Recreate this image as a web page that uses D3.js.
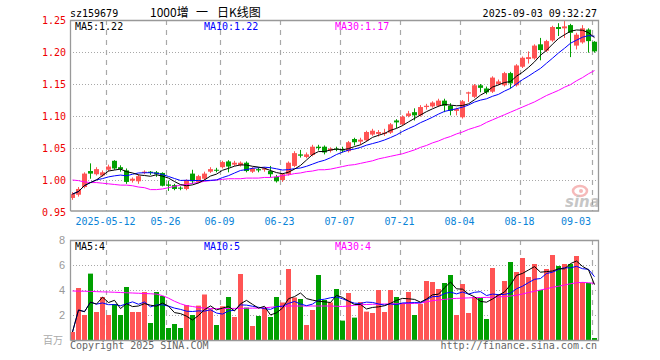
<!DOCTYPE html>
<html>
<head>
<meta charset="utf-8">
<script src="https://cdn.jsdelivr.net/npm/d3@7"></script>
<style>
body { margin: 0; background: #fff; }
svg text { font-family: "DejaVu Sans Mono", monospace; font-size: 10px; }
</style>
</head>
<body>
<div id="kline"></div>
<script>
// trading days shown on the chart
var dates = ["2025-04-29","2025-04-30","2025-05-06","2025-05-07","2025-05-08","2025-05-09","2025-05-12","2025-05-13","2025-05-14","2025-05-15",
  "2025-05-16","2025-05-19","2025-05-20","2025-05-21","2025-05-22","2025-05-23","2025-05-26","2025-05-27","2025-05-28","2025-05-29",
  "2025-05-30","2025-06-03","2025-06-04","2025-06-05","2025-06-06","2025-06-09","2025-06-10","2025-06-11","2025-06-12","2025-06-13",
  "2025-06-16","2025-06-17","2025-06-18","2025-06-19","2025-06-20","2025-06-23","2025-06-24","2025-06-25","2025-06-26","2025-06-27",
  "2025-06-30","2025-07-01","2025-07-02","2025-07-03","2025-07-04","2025-07-07","2025-07-08","2025-07-09","2025-07-10","2025-07-11",
  "2025-07-14","2025-07-15","2025-07-16","2025-07-17","2025-07-18","2025-07-21","2025-07-22","2025-07-23","2025-07-24","2025-07-25",
  "2025-07-28","2025-07-29","2025-07-30","2025-07-31","2025-08-01","2025-08-04","2025-08-05","2025-08-06","2025-08-07","2025-08-08",
  "2025-08-11","2025-08-12","2025-08-13","2025-08-14","2025-08-15","2025-08-18","2025-08-19","2025-08-20","2025-08-21","2025-08-22",
  "2025-08-25","2025-08-26","2025-08-27","2025-08-28","2025-08-29","2025-09-01","2025-09-02","2025-09-03"];

var openPrices = [0.972,0.977,0.989,1.014,1.009,1.007,1.016,1.030,1.020,1.015,
  0.999,0.998,1.011,1.013,1.012,1.011,0.993,0.992,0.988,0.986,
  1.010,0.997,1.002,1.013,1.016,1.020,1.029,1.024,1.023,1.027,
  1.013,1.017,1.016,1.014,1.005,1.000,1.009,1.022,1.040,1.036,
  1.039,1.052,1.052,1.046,1.049,1.048,1.045,1.064,1.060,1.062,
  1.071,1.072,1.072,1.074,1.093,1.087,1.100,1.106,1.101,1.114,
  1.115,1.116,1.124,1.116,1.108,1.098,1.135,1.130,1.148,1.143,
  1.138,1.150,1.148,1.167,1.148,1.177,1.189,1.190,1.212,1.202,
  1.218,1.239,1.237,1.242,1.210,1.215,1.235,1.216];

var highPrices = [0.981,0.989,1.012,1.026,1.020,1.015,1.024,1.031,1.023,1.018,
  1.004,1.009,1.015,1.014,1.014,1.012,0.999,0.994,0.990,1.001,
  1.016,1.008,1.013,1.020,1.019,1.030,1.031,1.030,1.029,1.029,
  1.020,1.020,1.020,1.022,1.008,1.011,1.029,1.045,1.047,1.043,
  1.055,1.055,1.054,1.051,1.052,1.052,1.061,1.066,1.066,1.077,
  1.080,1.078,1.080,1.089,1.095,1.101,1.108,1.112,1.117,1.119,
  1.123,1.127,1.127,1.120,1.113,1.125,1.138,1.150,1.150,1.146,
  1.162,1.157,1.169,1.169,1.181,1.193,1.201,1.212,1.222,1.219,
  1.241,1.245,1.250,1.244,1.230,1.242,1.237,1.217];

var lowPrices = [0.969,0.974,0.987,1.002,1.007,1.005,1.013,1.016,1.013,0.994,
  0.996,0.994,1.009,1.008,1.005,0.990,0.983,0.984,0.984,0.984,
  0.994,0.995,1.000,1.011,1.012,1.018,1.012,1.022,1.021,1.012,
  1.011,1.012,1.013,1.004,0.996,0.997,1.007,1.020,1.035,1.034,
  1.037,1.046,1.040,1.043,1.045,1.043,1.043,1.054,1.055,1.060,
  1.069,1.068,1.069,1.072,1.081,1.085,1.098,1.093,1.099,1.110,
  1.113,1.114,1.106,1.101,1.101,1.096,1.122,1.128,1.137,1.134,
  1.136,1.148,1.146,1.143,1.146,1.175,1.182,1.188,1.187,1.200,
  1.216,1.225,1.222,1.192,1.204,1.213,1.199,1.199];

var closePrices = [0.978,0.986,1.010,1.010,1.017,1.012,1.021,1.018,1.017,0.997,
  1.002,1.006,1.013,1.011,1.009,0.991,0.991,0.986,0.987,1.000,
  0.998,1.006,1.010,1.017,1.015,1.028,1.021,1.027,1.027,1.014,
  1.018,1.015,1.018,1.009,0.998,1.009,1.027,1.042,1.038,1.040,
  1.052,1.050,1.043,1.049,1.048,1.046,1.059,1.059,1.063,1.075,
  1.077,1.075,1.074,1.087,1.090,1.099,1.104,1.101,1.114,1.116,
  1.121,1.124,1.116,1.108,1.111,1.123,1.137,1.148,1.144,1.137,
  1.160,1.154,1.167,1.151,1.179,1.191,1.192,1.210,1.203,1.217,
  1.239,1.236,1.240,1.230,1.227,1.237,1.217,1.201];

// 30 day average (needs history before the window)
var priceMA30 = [1.000,0.999,0.997,0.996,0.996,0.995,0.994,0.993,0.992,0.992,
  0.991,0.989,0.988,0.985,0.985,0.986,0.988,0.990,0.992,0.993,
  0.995,0.996,0.998,0.999,1.000,1.001,1.002,1.002,1.002,1.003,
  1.003,1.003,1.004,1.004,1.005,1.007,1.008,1.010,1.011,1.013,
  1.014,1.016,1.016,1.017,1.019,1.021,1.023,1.024,1.026,1.028,
  1.030,1.033,1.035,1.037,1.039,1.041,1.044,1.047,1.051,1.054,
  1.058,1.061,1.065,1.068,1.072,1.075,1.079,1.082,1.085,1.090,
  1.094,1.098,1.102,1.106,1.110,1.114,1.118,1.122,1.127,1.132,
  1.136,1.140,1.145,1.149,1.155,1.160,1.166,1.171];

// volume, millions
var volumes = [0.64,4.16,2.00,5.31,2.24,3.44,2.00,2.88,2.00,4.24,
  2.24,2.24,3.84,1.36,3.84,3.52,0.96,1.28,0.96,2.80,
  2.00,2.75,3.64,2.45,1.20,2.70,3.44,1.84,5.28,2.59,
  1.12,1.92,2.56,1.84,3.44,3.00,5.68,3.40,3.28,1.20,
  2.40,5.20,3.20,3.00,4.08,1.55,3.76,1.79,3.04,2.27,
  2.16,4.00,2.24,4.00,3.44,2.96,3.84,2.00,2.88,4.72,
  4.64,4.08,4.56,5.20,2.00,4.48,2.16,3.44,3.36,1.68,
  5.76,3.68,4.72,6.24,5.44,6.56,5.04,6.08,4.00,5.68,
  6.80,5.92,6.08,6.08,6.72,4.64,4.56,0.16];

var volumeMA30 = [3.92,3.91,3.90,3.89,3.87,3.85,3.84,3.82,3.80,3.78,
  3.76,3.74,3.72,3.70,3.67,3.55,3.35,3.10,2.90,2.75,
  2.68,2.60,2.55,2.52,2.51,2.51,2.52,2.53,2.53,2.54,
  2.55,2.55,2.58,2.62,2.66,2.70,2.72,2.72,2.72,2.72,
  2.72,2.72,2.72,2.72,2.70,2.68,2.72,2.78,2.82,2.84,
  2.86,2.87,2.88,2.89,2.90,2.91,2.92,2.93,2.95,3.05,
  3.15,3.20,3.25,3.30,3.33,3.35,3.37,3.39,3.40,3.41,
  3.42,3.45,3.48,3.52,3.58,3.68,3.80,3.90,4.00,4.10,
  4.22,4.30,4.40,4.50,4.58,4.61,4.58,4.53];

var tickDates = ["2025-05-12","2025-05-26","2025-06-09","2025-06-23","2025-07-07","2025-07-21","2025-08-04","2025-08-18","2025-09-03"];
var tickLabels = ["2025-05-12","05-26","06-09","06-23","07-07","07-21","08-04","08-18","09-03"];
var priceTicks = [1.25, 1.20, 1.15, 1.10, 1.05, 1.00, 0.95];
var volumeTicks = [8, 6, 4, 2];

var upColor = "#ff5454";
var downColor = "#00a000";
var gridColor = "#a8a8a8";

// simple moving average (shorter window at the very start)
function movingAverage(values, n) {
  return values.map((v, i) => d3.mean(values.slice(Math.max(0, i - n + 1), i + 1)));
}

var candles = dates.map((d, i) => ({
  date: d, open: openPrices[i], high: highPrices[i], low: lowPrices[i],
  close: closePrices[i], volume: volumes[i]
}));

var priceMA5 = movingAverage(closePrices, 5);
var priceMA10 = movingAverage(closePrices, 10);
var volumeMA5 = movingAverage(volumes, 5);
var volumeMA10 = movingAverage(volumes, 10);

var width = 660, height = 360;
var left = 70, right = 598;
var mainTop = 20, mainBottom = 211;
var volTop = 240, volBottom = 340;

var svg = d3.select("#kline").append("svg")
  .attr("width", width).attr("height", height);

var x = d3.scaleBand().domain(dates).range([70, 597]).paddingInner(1 / 6);
var y = d3.scaleLinear().domain([0.95, 1.25]).range([212, 20]);
var yv = d3.scaleLinear().domain([0, 8]).range([340, 240]);
var cx = d => x(d) + x.bandwidth() / 2;

// header
svg.append("text").attr("x", 70).attr("y", 16.5).attr("fill", "#000").text("sz159679");
var title = svg.append("g").attr("font-size", "12px");
title.append("text").attr("x", 150).attr("y", 17).style("font-family", "'Noto Sans CJK SC', sans-serif").style("font-size", "12px").text("1000增");
title.append("text").attr("x", 196).attr("y", 17).style("font-family", "'Noto Sans CJK SC', sans-serif").style("font-size", "12px").text("一");
title.append("text").attr("x", 217).attr("y", 17).style("font-family", "'Noto Sans CJK SC', sans-serif").style("font-size", "12px").text("日K线图");
svg.append("text").attr("x", 597).attr("y", 16.5).attr("text-anchor", "end").text("2025-09-03 09:32:27");

// dotted horizontal grid
svg.append("g").selectAll("line")
  .data(priceTicks.filter(t => t < 1.249 && t > 0.951))
  .enter().append("line")
  .attr("x1", left).attr("x2", right)
  .attr("y1", d => Math.round(y(d)) + 0.5).attr("y2", d => Math.round(y(d)) + 0.5)
  .attr("stroke", gridColor).attr("stroke-dasharray", "1,2");

svg.append("g").selectAll("line")
  .data([6, 4, 2])
  .enter().append("line")
  .attr("x1", left).attr("x2", right)
  .attr("y1", d => yv(d) + 0.5).attr("y2", d => yv(d) + 0.5)
  .attr("stroke", gridColor).attr("stroke-dasharray", "1,2");

// dashed date lines in both panels
[[mainTop, mainBottom], [volTop, volBottom]].forEach(([t, b]) => {
  svg.append("g").selectAll("line")
    .data(tickDates)
    .enter().append("line")
    .attr("x1", d => x(d) + 0.5).attr("x2", d => x(d) + 0.5)
    .attr("y1", t).attr("y2", b)
    .attr("stroke", gridColor).attr("stroke-width", 1.2)
    .attr("stroke-dasharray", "5,5");
});

// sina watermark
var mark = svg.append("g").attr("opacity", 0.55);
mark.append("ellipse").attr("cx", 580).attr("cy", 191).attr("rx", 7).attr("ry", 5)
  .attr("fill", "none").attr("stroke", "#f08080").attr("stroke-width", 2.5);
mark.append("circle").attr("cx", 581).attr("cy", 191).attr("r", 2).attr("fill", "#f08080");
mark.append("text").attr("x", 565).attr("y", 207)
  .style("font-family", "'DejaVu Sans', sans-serif").style("font-size", "15px")
  .style("font-style", "italic").style("font-weight", "bold")
  .attr("fill", "#999").text("sina");

// candles
var candle = svg.append("g").selectAll("g")
  .data(candles).enter().append("g");

candle.append("line")
  .attr("x1", d => cx(d.date)).attr("x2", d => cx(d.date))
  .attr("y1", d => y(d.high)).attr("y2", d => y(d.low))
  .attr("stroke", d => d.close >= d.open ? upColor : downColor);

candle.append("rect")
  .attr("x", d => x(d.date)).attr("width", x.bandwidth())
  .attr("y", d => y(Math.max(d.open, d.close)))
  .attr("height", d => Math.max(1, Math.abs(y(d.open) - y(d.close))))
  .attr("fill", d => d.close >= d.open ? upColor : downColor);

// volume bars
svg.append("g").selectAll("rect")
  .data(candles).enter().append("rect")
  .attr("x", d => x(d.date)).attr("width", x.bandwidth())
  .attr("y", d => yv(d.volume)).attr("height", d => volBottom - yv(d.volume))
  .attr("fill", d => d.close >= d.open ? upColor : downColor);

// moving average lines
function drawLine(values, scale, color) {
  var line = d3.line().x((d, i) => cx(dates[i])).y(d => scale(d));
  svg.append("path").datum(values)
    .attr("d", line).attr("fill", "none")
    .attr("stroke", color).attr("stroke-width", 1);
}
drawLine(priceMA30, y, "#ff00ff");
drawLine(priceMA10, y, "#0000ff");
drawLine(priceMA5, y, "#000000");
drawLine(volumeMA30, yv, "#ff00ff");
drawLine(volumeMA10, yv, "#0000ff");
drawLine(volumeMA5, yv, "#000000");

// panel frames
svg.append("path")
  .attr("d", "M70.5,211 V20.5 H598.5 V211 H70.5 M70.5,340.5 V240.5 H598.5 V340.5 H70.5")
  .attr("fill", "none").attr("stroke", "#999").attr("stroke-width", 1.3);

// price axis
svg.append("g").selectAll("text")
  .data(priceTicks).enter().append("text")
  .attr("x", 66).attr("y", d => y(d) + 3.5)
  .attr("text-anchor", "end").attr("fill", "#ee0000")
  .text(d => d.toFixed(2));

// volume axis
svg.append("g").selectAll("text")
  .data(volumeTicks).enter().append("text")
  .attr("x", 65).attr("y", d => yv(d) + 4)
  .attr("text-anchor", "end").attr("fill", "#999")
  .style("font-family", "'Liberation Sans', sans-serif").style("font-size", "11px")
  .text(d => d);
svg.append("text").attr("x", 63).attr("y", 344).attr("text-anchor", "end")
  .attr("fill", "#aaa").style("font-family", "'Noto Sans CJK SC', sans-serif").style("font-size", "10px")
  .text("百万");

// date labels
svg.append("g").selectAll("text")
  .data(tickDates).enter().append("text")
  .attr("x", (d, i) => i === tickDates.length - 1 ? 591 : x(d) - 0.5)
  .attr("y", 225)
  .attr("text-anchor", (d, i) => i === tickDates.length - 1 ? "end" : "middle")
  .attr("fill", "#0a84d8")
  .text((d, i) => tickLabels[i]);

// legends
var last = dates.length - 1;
svg.append("text").attr("x", 75).attr("y", 30).attr("fill", "#000").text("MA5:" + priceMA5[last].toFixed(2));
svg.append("text").attr("x", 204).attr("y", 30).attr("fill", "#0000ff").text("MA10:" + priceMA10[last].toFixed(2));
svg.append("text").attr("x", 335).attr("y", 30).attr("fill", "#ff00ff").text("MA30:" + priceMA30[last].toFixed(2));
svg.append("text").attr("x", 75).attr("y", 249.5).attr("fill", "#000").text("MA5:" + Math.floor(volumeMA5[last]));
svg.append("text").attr("x", 204).attr("y", 249.5).attr("fill", "#0000ff").text("MA10:" + Math.floor(volumeMA10[last]));
svg.append("text").attr("x", 335).attr("y", 249.5).attr("fill", "#ff00ff").text("MA30:" + Math.floor(volumeMA30[last]));

// footer
svg.append("text").attr("x", 70).attr("y", 349).attr("fill", "#666").text("Copyright 2025 SINA.COM");
svg.append("text").attr("x", 597).attr("y", 349).attr("text-anchor", "end").attr("fill", "#666").text("http://finance.sina.com.cn");
</script>
</body>
</html>
